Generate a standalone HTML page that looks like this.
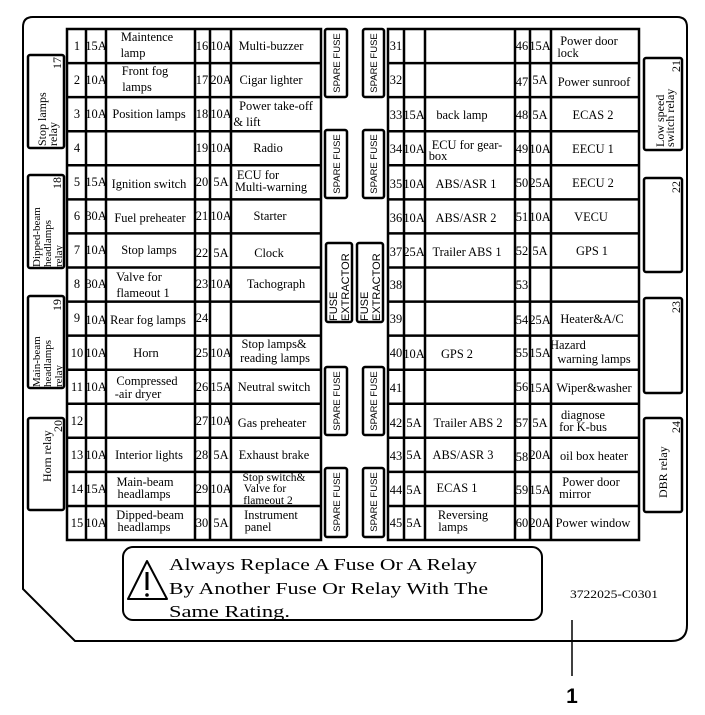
<!DOCTYPE html>
<html><head><meta charset="utf-8"><style>
html,body{margin:0;padding:0;background:#fff;}
svg{display:block;}
.t{font-family:"Liberation Serif",serif;font-size:12.4px;fill:#000;}
.m{text-anchor:middle;}
.s{font-family:"Liberation Sans",sans-serif;font-size:9.5px;fill:#000;}
.x{font-family:"Liberation Sans",sans-serif;font-size:11px;fill:#000;}
.r{font-family:"Liberation Serif",serif;font-size:12px;fill:#000;}
</style></head><body>
<svg width="705" height="715" viewBox="0 0 705 715" xmlns="http://www.w3.org/2000/svg">
<rect width="705" height="715" fill="#fff"/>
<path d="M23,27 Q23,17 33,17 L677,17 Q687,17 687,27 L687,625 Q687,641 671,641 L75,641 L23,589 Z" fill="none" stroke="#000" stroke-width="2"/>

<g stroke="#000" stroke-width="2.5" fill="none">
<rect x="67" y="29" width="254" height="511"/>
<line x1="86" y1="29" x2="86" y2="540"/><line x1="106" y1="29" x2="106" y2="540"/>
<line x1="195" y1="29" x2="195" y2="540"/><line x1="210" y1="29" x2="210" y2="540"/>
<line x1="231" y1="29" x2="231" y2="540"/>
<rect x="388" y="29" width="251" height="511"/>
<line x1="404" y1="29" x2="404" y2="540"/><line x1="425" y1="29" x2="425" y2="540"/>
<line x1="515" y1="29" x2="515" y2="540"/><line x1="530" y1="29" x2="530" y2="540"/>
<line x1="551" y1="29" x2="551" y2="540"/>
<path d="M67,63.1H321M67,97.1H321M67,131.2H321M67,165.3H321M67,199.4H321M67,233.4H321M67,267.5H321M67,301.6H321M67,335.6H321M67,369.7H321M67,403.8H321M67,437.8H321M67,471.9H321M67,506H321"/>
<path d="M388,63.1H639M388,97.1H639M388,131.2H639M388,165.3H639M388,199.4H639M388,233.4H639M388,267.5H639M388,301.6H639M388,335.6H639M388,369.7H639M388,403.8H639M388,437.8H639M388,471.9H639M388,506H639"/>
<rect x="325" y="29" width="22" height="68" rx="2"/><rect x="325" y="130" width="22" height="68" rx="2"/>
<rect x="325" y="367" width="22" height="68" rx="2"/><rect x="325" y="468" width="22" height="69" rx="2"/>
<rect x="363" y="29" width="21" height="68" rx="2"/><rect x="363" y="130" width="21" height="68" rx="2"/>
<rect x="363" y="367" width="21" height="68" rx="2"/><rect x="363" y="468" width="21" height="69" rx="2"/>
<rect x="326" y="243" width="26" height="79" rx="2"/><rect x="357" y="243" width="26" height="79" rx="2"/>
<rect x="28" y="55" width="36" height="93" rx="2"/>
<rect x="28" y="175" width="36" height="93" rx="2"/>
<rect x="28" y="296" width="36" height="92" rx="2"/>
<rect x="28" y="418" width="36" height="92" rx="2"/>
<rect x="644" y="58" width="38" height="92" rx="2"/>
<rect x="644" y="178" width="38" height="94" rx="2"/>
<rect x="644" y="298" width="38" height="95" rx="2"/>
<rect x="644" y="418" width="38" height="94" rx="2"/>
<rect x="123" y="547" width="419" height="73" rx="10" stroke-width="2"/>
<path d="M147,561 L128,599 L167,599 Z" stroke-width="2" stroke-linejoin="round"/>
<line x1="572" y1="620" x2="572" y2="676" stroke-width="1.5"/>
</g>
<line x1="147" y1="572" x2="147" y2="590" stroke="#000" stroke-width="3"/>
<circle cx="147" cy="595" r="1.8" fill="#000"/>

<g class="t m">
<text x="77" y="50">1</text><text x="96" y="50">15A</text><text x="147" y="41">Maintence</text><text x="133" y="57">lamp</text>
<text x="202" y="50">16</text><text x="221" y="50">10A</text><text x="271" y="50">Multi-buzzer</text>
<text x="77" y="84">2</text><text x="96" y="84">10A</text><text x="145" y="75">Front fog</text><text x="137" y="91">lamps</text>
<text x="202" y="84">17</text><text x="221" y="84">20A</text><text x="271" y="84">Cigar lighter</text>
<text x="77" y="118">3</text><text x="96" y="118">10A</text><text x="149" y="118">Position lamps</text>
<text x="202" y="118">18</text><text x="221" y="118">10A</text><text x="276" y="110">Power take-off</text><text x="247" y="126">&amp; lift</text>
<text x="77" y="152">4</text>
<text x="202" y="152">19</text><text x="221" y="152">10A</text><text x="268" y="152">Radio</text>
<text x="77" y="186">5</text><text x="96" y="186">15A</text><text x="149" y="188">Ignition switch</text>
<text x="202" y="186">20</text><text x="221" y="186">5A</text><text x="258" y="179">ECU for</text><text x="271" y="191">Multi-warning</text>
<text x="77" y="220">6</text><text x="96" y="220">30A</text><text x="150" y="222">Fuel preheater</text>
<text x="202" y="220">21</text><text x="221" y="220">10A</text><text x="270" y="220">Starter</text>
<text x="77" y="254">7</text><text x="96" y="254">10A</text><text x="149" y="254">Stop lamps</text>
<text x="202" y="257">22</text><text x="221" y="257">5A</text><text x="269" y="257">Clock</text>
<text x="77" y="288">8</text><text x="96" y="288">30A</text><text x="139" y="281">Valve for</text><text x="143" y="297">flameout 1</text>
<text x="202" y="288">23</text><text x="221" y="288">10A</text><text x="276" y="288">Tachograph</text>
<text x="77" y="322">9</text><text x="96" y="324">10A</text><text x="148" y="324">Rear fog lamps</text>
<text x="202" y="322">24</text>
<text x="77" y="357">10</text><text x="96" y="357">10A</text><text x="146" y="357">Horn</text>
<text x="202" y="357">25</text><text x="221" y="357">10A</text><text x="274" y="348">Stop lamps&amp;</text><text x="275" y="362">reading lamps</text>
<text x="77" y="391">11</text><text x="96" y="391">10A</text><text x="147" y="385">Compressed</text><text x="138" y="398">-air dryer</text>
<text x="202" y="391">26</text><text x="221" y="391">15A</text><text x="274" y="391">Neutral switch</text>
<text x="77" y="425">12</text>
<text x="202" y="425">27</text><text x="221" y="425">10A</text><text x="272" y="427">Gas preheater</text>
<text x="77" y="459">13</text><text x="96" y="459">10A</text><text x="149" y="459">Interior lights</text>
<text x="202" y="459">28</text><text x="221" y="459">5A</text><text x="274" y="459">Exhaust brake</text>
<text x="77" y="493">14</text><text x="96" y="493">15A</text><text x="145" y="486">Main-beam</text><text x="144" y="498">headlamps</text>
<text x="202" y="493">29</text><text x="221" y="493">10A</text><text x="274" y="481" style="font-size:11.5px">Stop switch&amp;</text><text x="265" y="492" style="font-size:11.5px">Valve for</text><text x="268" y="504" style="font-size:11.5px">flameout 2</text>
<text x="77" y="527">15</text><text x="96" y="527">10A</text><text x="150" y="519">Dipped-beam</text><text x="144" y="531">headlamps</text>
<text x="202" y="527">30</text><text x="221" y="527">5A</text><text x="271" y="519">Instrument</text><text x="258" y="531">panel</text>
</g>

<g class="t m">
<text x="396" y="50">31</text>
<text x="522" y="50">46</text><text x="540" y="50">15A</text><text x="589" y="45">Power door</text><text x="568" y="57">lock</text>
<text x="396" y="84">32</text>
<text x="522" y="86">47</text><text x="540" y="84">5A</text><text x="594" y="86">Power sunroof</text>
<text x="396" y="119">33</text><text x="414" y="119">15A</text><text x="462" y="119">back lamp</text>
<text x="522" y="119">48</text><text x="540" y="119">5A</text><text x="593" y="119">ECAS 2</text>
<text x="396" y="153">34</text><text x="414" y="153">10A</text><text x="467" y="149">ECU for gear-</text><text x="438" y="160">box</text>
<text x="522" y="153">49</text><text x="540" y="153">10A</text><text x="593" y="153">EECU 1</text>
<text x="396" y="188">35</text><text x="414" y="188">10A</text><text x="466" y="188">ABS/ASR 1</text>
<text x="522" y="187">50</text><text x="540" y="187">25A</text><text x="593" y="187">EECU 2</text>
<text x="396" y="222">36</text><text x="414" y="222">10A</text><text x="466" y="222">ABS/ASR 2</text>
<text x="522" y="221">51</text><text x="540" y="221">10A</text><text x="591" y="221">VECU</text>
<text x="396" y="256">37</text><text x="414" y="256">25A</text><text x="467" y="256">Trailer ABS 1</text>
<text x="522" y="255">52</text><text x="540" y="255">5A</text><text x="592" y="255">GPS 1</text>
<text x="396" y="289">38</text>
<text x="522" y="289">53</text>
<text x="396" y="323">39</text>
<text x="522" y="324">54</text><text x="540" y="324">25A</text><text x="592" y="323">Heater&amp;A/C</text>
<text x="396" y="357">40</text><text x="414" y="358">10A</text><text x="457" y="358">GPS 2</text>
<text x="522" y="357">55</text><text x="540" y="357">15A</text><text x="568" y="349">Hazard</text><text x="594" y="363">warning lamps</text>
<text x="396" y="392">41</text>
<text x="522" y="391">56</text><text x="540" y="392">15A</text><text x="594" y="392">Wiper&amp;washer</text>
<text x="396" y="427">42</text><text x="414" y="427">5A</text><text x="468" y="427">Trailer ABS 2</text>
<text x="522" y="427">57</text><text x="540" y="427">5A</text><text x="583" y="419">diagnose</text><text x="583" y="431">for K-bus</text>
<text x="396" y="460">43</text><text x="414" y="459">5A</text><text x="463" y="459">ABS/ASR 3</text>
<text x="522" y="461">58</text><text x="540" y="459">20A</text><text x="594" y="460">oil box heater</text>
<text x="396" y="494">44</text><text x="414" y="494">5A</text><text x="457" y="492">ECAS 1</text>
<text x="522" y="494">59</text><text x="540" y="494">15A</text><text x="591" y="486">Power  door</text><text x="575" y="498">mirror</text>
<text x="396" y="527">45</text><text x="414" y="527">5A</text><text x="463" y="519">Reversing</text><text x="453" y="531">lamps</text>
<text x="522" y="527">60</text><text x="540" y="527">20A</text><text x="593" y="527">Power window</text>
</g>

<g class="s m">
<text transform="translate(340,63) rotate(-90)">SPARE FUSE</text>
<text transform="translate(340,164) rotate(-90)">SPARE FUSE</text>
<text transform="translate(340,401) rotate(-90)">SPARE FUSE</text>
<text transform="translate(340,502) rotate(-90)">SPARE FUSE</text>
<text transform="translate(377,63) rotate(-90)">SPARE FUSE</text>
<text transform="translate(377,164) rotate(-90)">SPARE FUSE</text>
<text transform="translate(377,401) rotate(-90)">SPARE FUSE</text>
<text transform="translate(377,502) rotate(-90)">SPARE FUSE</text>
</g>
<g class="x">
<text transform="translate(337,321) rotate(-90)">FUSE</text>
<text transform="translate(349,321) rotate(-90)">EXTRACTOR</text>
<text transform="translate(368,321) rotate(-90)">FUSE</text>
<text transform="translate(380,321) rotate(-90)">EXTRACTOR</text>
</g>

<g class="r">
<text transform="translate(46,146) rotate(-90)">Stop lamps</text>
<text transform="translate(57,146) rotate(-90)">relay</text>
<text transform="translate(61,57) rotate(-90)" text-anchor="end">17</text>
<text transform="translate(40,267) rotate(-90)" style="font-size:11px">Dipped-beam</text>
<text transform="translate(51,267) rotate(-90)" style="font-size:11px">headlamps</text>
<text transform="translate(62,267) rotate(-90)" style="font-size:11px">relay</text>
<text transform="translate(61,177) rotate(-90)" text-anchor="end">18</text>
<text transform="translate(40,387) rotate(-90)" style="font-size:11px">Main-beam</text>
<text transform="translate(51,387) rotate(-90)" style="font-size:11px">headlamps</text>
<text transform="translate(62,387) rotate(-90)" style="font-size:11px">relay</text>
<text transform="translate(61,299) rotate(-90)" text-anchor="end">19</text>
<text transform="translate(51,482) rotate(-90)">Horn relay</text>
<text transform="translate(62,420) rotate(-90)" text-anchor="end">20</text>
<text transform="translate(664,147) rotate(-90)">Low speed</text>
<text transform="translate(674,147) rotate(-90)">switch relay</text>
<text transform="translate(680,60) rotate(-90)" text-anchor="end">21</text>
<text transform="translate(680,181) rotate(-90)" text-anchor="end">22</text>
<text transform="translate(680,301) rotate(-90)" text-anchor="end">23</text>
<text transform="translate(667,498) rotate(-90)">DBR relay</text>
<text transform="translate(680,421) rotate(-90)" text-anchor="end">24</text>
</g>

<g style="font-family:'Liberation Serif',serif;font-size:17px;fill:#000">
<text x="169" y="570" textLength="308" lengthAdjust="spacingAndGlyphs">Always Replace A Fuse Or A Relay</text>
<text x="169" y="594" textLength="319" lengthAdjust="spacingAndGlyphs">By Another Fuse Or Relay With The</text>
<text x="169" y="617" textLength="121" lengthAdjust="spacingAndGlyphs">Same Rating.</text>
</g>
<text x="570" y="598" style="font-family:'Liberation Serif',serif;font-size:11.5px" textLength="88" lengthAdjust="spacingAndGlyphs">3722025-C0301</text>
<text x="572" y="703" text-anchor="middle" style="font-family:'Liberation Sans',sans-serif;font-size:21px;font-weight:bold">1</text>
</svg>
</body></html>
